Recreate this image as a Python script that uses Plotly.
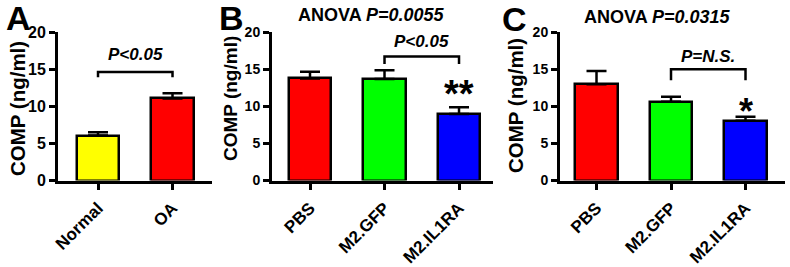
import plotly.graph_objects as go

# ---- data ----
cats_a = ["Normal", "OA"]
vals_a = [6.05, 11.05]
err_a = [0.45, 0.7]
colors_a = ["#FFFF00", "#FF0000"]

cats_bc = ["PBS", "M2.GFP", "M2.IL1RA"]
vals_b = [13.75, 13.66, 8.95]
err_b = [0.9, 1.2, 0.9]
vals_c = [12.95, 10.6, 8.05]
err_c = [1.8, 0.68, 0.54]
colors_bc = ["#FF0000", "#00FF00", "#0000FF"]

y_ticks = [0, 5, 10, 15, 20]

# brackets: (panel, x0, x1, y_top, y_low, label, label_y)
brackets = [
    ("A", 0, 1, 14.6, 13.9, "<i>P&lt;0.05</i>", 17.0),
    ("B", 1, 2, 16.7, 15.7, "<i>P&lt;0.05</i>", 18.7),
    ("C", 1, 2, 14.97, 13.5, "<i>P=N.S.</i>", 16.7),
]
stars = [("B", 2, "**", 8.6, 38), ("C", 2, "*", 6.2, 36)]
anova = [("B", "ANOVA <i>P=0.0055</i>"), ("C", "ANOVA <i>P=0.0315</i>")]

W, H = 790, 267
FONT = "Liberation Sans, Arial, sans-serif"

panels = {
    "A": dict(cats=cats_a, vals=vals_a, err=err_a, colors=colors_a,
              dom=[58 / W, 212 / W], rng=[-0.537, 1.53], ax="", tickf=16),
    "B": dict(cats=cats_bc, vals=vals_b, err=err_b, colors=colors_bc,
              dom=[272 / W, 493 / W], rng=[-0.51, 2.456], ax="2", tickf=14),
    "C": dict(cats=cats_bc, vals=vals_c, err=err_c, colors=colors_bc,
              dom=[560 / W, 785 / W], rng=[-0.49, 2.53], ax="3", tickf=14),
}

ydom = [1 - 180.5 / H, 1 - 32 / H]

fig = go.Figure()
layout = {}
shapes = []
annotations = []

for key, p in panels.items():
    ax = p["ax"]
    xs = list(range(len(p["cats"])))
    fig.add_trace(go.Bar(
        x=xs, y=p["vals"], width=0.57,
        marker=dict(color=p["colors"], line=dict(color="black", width=2.5)),
        error_y=dict(type="data", array=p["err"], arrayminus=[0] * len(xs),
                     symmetric=False, color="black", thickness=2.5, width=10),
        xaxis="x" + ax, yaxis="y" + ax, showlegend=False, hoverinfo="skip",
    ))
    layout["xaxis" + ax] = dict(
        domain=p["dom"], range=p["rng"], anchor="y" + ax, automargin=False,
        tickvals=xs, ticktext=p["cats"], tickangle=-45, ticklabelstandoff=2,
        tickfont=dict(family=FONT, size=17, color="black", weight="bold"),
        showline=True, linecolor="black", linewidth=3,
        ticks="outside", ticklen=6, tickwidth=2.5, tickcolor="black",
        showgrid=False, zeroline=False, fixedrange=True,
    )
    layout["yaxis" + ax] = dict(
        domain=ydom, range=[0, 20], anchor="x" + ax, automargin=False,
        tickvals=y_ticks, ticktext=[str(t) for t in y_ticks],
        tickfont=dict(family=FONT, size=p["tickf"], color="black", weight="bold"),
        showline=True, linecolor="black", linewidth=3,
        ticks="outside", ticklen=6, tickwidth=2.5, tickcolor="black",
        showgrid=False, zeroline=False, fixedrange=True,
    )

for key, x0, x1, yt, yl, lab, ly in brackets:
    ax = panels[key]["ax"]
    shapes.append(dict(
        type="path", xref="x" + ax, yref="y" + ax,
        path=f"M {x0},{yl} L {x0},{yt} L {x1},{yt} L {x1},{yl}",
        line=dict(color="black", width=2.5),
    ))
    annotations.append(dict(
        x=(x0 + x1) / 2, y=ly, xref="x" + ax, yref="y" + ax, text=lab,
        showarrow=False, yanchor="middle",
        font=dict(family=FONT, size=17, color="black", weight="bold"),
    ))

for key, xi, s, sy, fs in stars:
    ax = panels[key]["ax"]
    annotations.append(dict(
        x=xi, y=sy, xref="x" + ax, yref="y" + ax, text=s,
        showarrow=False, yanchor="bottom",
        font=dict(family=FONT, size=fs, color="black", weight="bold"),
    ))

anova_pos = {"B": (371, 15), "C": (657, 17)}
for key, txt in anova:
    px, py = anova_pos[key]
    annotations.append(dict(
        x=px / W, y=1 - py / H, xref="paper", yref="paper", text=txt,
        showarrow=False, xanchor="center", yanchor="middle",
        font=dict(family=FONT, size=18, color="black", weight="bold"),
    ))

letters = {"A": (18, 18), "B": (231, 18), "C": (514, 19)}
for key, (px, py) in letters.items():
    annotations.append(dict(
        x=px / W, y=1 - py / H, xref="paper", yref="paper", text=key,
        showarrow=False, xanchor="center", yanchor="middle",
        font=dict(family=FONT, size=34, color="black", weight="bold"),
    ))

ytitles = {"A": (17, 109, 20.5), "B": (230, 99, 19), "C": (515, 106, 20.5)}
for key, (px, py, fs) in ytitles.items():
    annotations.append(dict(
        x=px / W, y=1 - py / H, xref="paper", yref="paper",
        text="COMP (ng/ml)", textangle=-90,
        showarrow=False, xanchor="center", yanchor="middle",
        font=dict(family=FONT, size=fs, color="black", weight="bold"),
    ))

fig.update_layout(
    width=W, height=H,
    margin=dict(l=0, r=0, t=0, b=0),
    paper_bgcolor="white", plot_bgcolor="white",
    shapes=shapes, annotations=annotations,
    bargap=0, **layout,
)

fig.write_html("out.html", config={"displayModeBar": False},
               post_script="document.body.style.margin='0';")
